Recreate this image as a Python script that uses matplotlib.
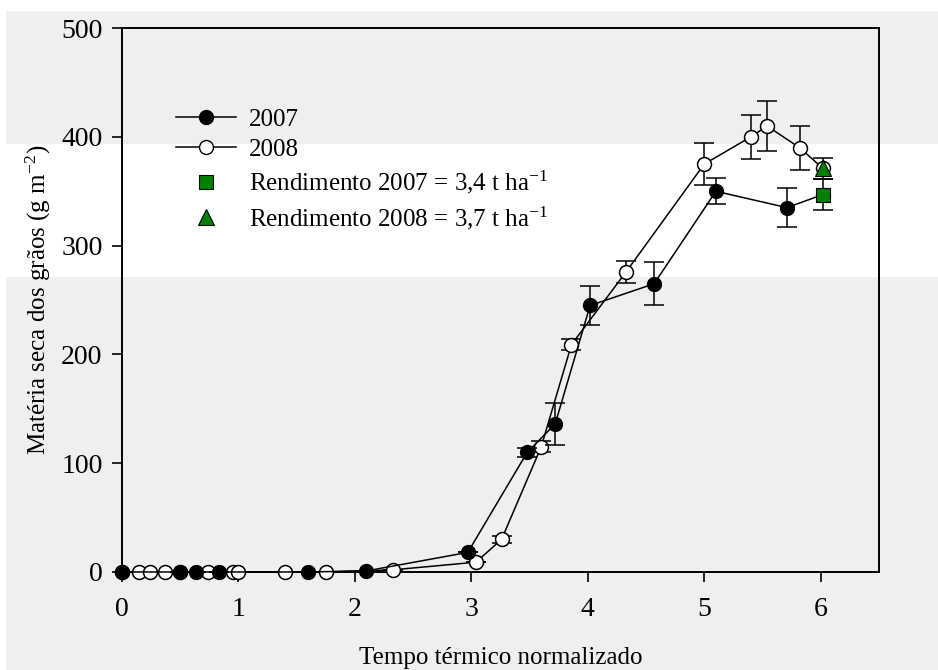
import matplotlib
matplotlib.use("Agg")
import matplotlib.pyplot as plt
from matplotlib.patches import Rectangle
from matplotlib.lines import Line2D

plt.rcParams["font.family"] = ["Liberation Serif", "DejaVu Serif"]
plt.rcParams["mathtext.fontset"] = "stix"

# 2007 series (filled circles)
x07 = [0, 0.5, 0.64, 0.83, 1.6, 2.1, 2.97, 3.48, 3.72, 4.02, 4.57, 5.1, 5.71, 6.02]
y07 = [0, 0, 0, 0, 0, 1, 18, 110, 136, 245, 265, 350, 335, 347]
e07 = [0, 0, 0, 0, 0, 0, 0, 4, 19, 18, 20, 12, 18, 14]

# 2008 series (open circles)
x08 = [0, 0.15, 0.24, 0.37, 0.5, 0.74, 0.95, 1.0, 1.4, 1.75, 2.33, 3.04, 3.26, 3.6,
       3.86, 4.33, 5.0, 5.4, 5.54, 5.82, 6.02]
y08 = [0, 0, 0, 0, 0, 0, 0, 0, 0, 0, 2, 9, 30, 115, 209, 276, 375, 400, 410, 390, 371]
e08 = [0, 0, 0, 0, 0, 0, 0, 0, 0, 0, 0, 0, 3, 5, 5, 10, 19, 20, 23, 20, 10]

# yield points
yield_x = [6.02, 6.02]
yield_y = [347, 371]
yield_labels = ["Rendimento 2007 = 3,4 t ha$^{\\mathregular{-1}}$",
                "Rendimento 2008 = 3,7 t ha$^{\\mathregular{-1}}$"]

fig = plt.figure(figsize=(9.38, 6.7), dpi=100, facecolor="#efefef")
# scanned background bands
fig.patches.append(Rectangle((0, 1 - 277 / 670), 1, (277 - 144) / 670, transform=fig.transFigure,
                             facecolor="white", edgecolor="none", zorder=-10))
fig.patches.append(Rectangle((0, 1 - 11 / 670), 1, 11 / 670, transform=fig.transFigure,
                             facecolor="white", edgecolor="none", zorder=-10))
fig.patches.append(Rectangle((0, 0), 6 / 938, 1, transform=fig.transFigure,
                             facecolor="white", edgecolor="none", zorder=-10))

ax = fig.add_axes([0.130, 0.1463, 0.807, 0.8117])
ax.set_facecolor("none")

kw = dict(color="black", lw=1.1, marker="o", ms=10, capsize=7, elinewidth=1.1,
          capthick=1.1)
eb08 = ax.errorbar(x08, y08, yerr=e08, mfc="white", mec="black", mew=1.1, zorder=3, **kw)
eb07 = ax.errorbar(x07, y07, yerr=e07, mfc="black", mec="black", zorder=4, **kw)
for eb in (eb07, eb08):
    eb[0].set_clip_on(False)
ax.plot(yield_x[0], yield_y[0], ls="none", marker="s", ms=10, mfc="#008000", mec="black",
        mew=0.8, zorder=5)
ax.plot(yield_x[1], yield_y[1], ls="none", marker="^", ms=11, mfc="#008000", mec="black",
        mew=0.8, zorder=5)

ax.set_xlim(0, 6.5)
ax.set_ylim(0, 500)
ax.set_xticks([0, 1, 2, 3, 4, 5, 6])
ax.set_yticks([0, 100, 200, 300, 400, 500])
ax.tick_params(direction="out", length=7, width=1.2, labelsize=20)
ax.tick_params(axis="x", pad=11)
ax.tick_params(axis="y", pad=7)
for s in ax.spines.values():
    s.set_linewidth(1.4)

ax.set_xlabel("Tempo térmico normalizado", fontsize=18, labelpad=18)
ax.set_ylabel("Matéria seca dos grãos (g m$^{\\mathregular{-2}}$)", fontsize=18, labelpad=6)

handles = [
    Line2D([], [], color="black", lw=1.1, marker="o", ms=10, mfc="black", mec="black"),
    Line2D([], [], color="black", lw=1.1, marker="o", ms=10, mfc="white", mec="black"),
    Line2D([], [], ls="none", marker="s", ms=10, mfc="#008000", mec="black", mew=0.8),
    Line2D([], [], ls="none", marker="^", ms=11, mfc="#008000", mec="black", mew=0.8),
]
labels = ["2007", "2008"] + yield_labels
ax.legend(handles, labels, loc="upper left", bbox_to_anchor=(0.055, 0.875), frameon=False,
          fontsize=18, handlelength=2.4, handletextpad=0.5, labelspacing=0.3, borderpad=0)

fig.savefig("out.png", dpi=100, facecolor=fig.get_facecolor())
